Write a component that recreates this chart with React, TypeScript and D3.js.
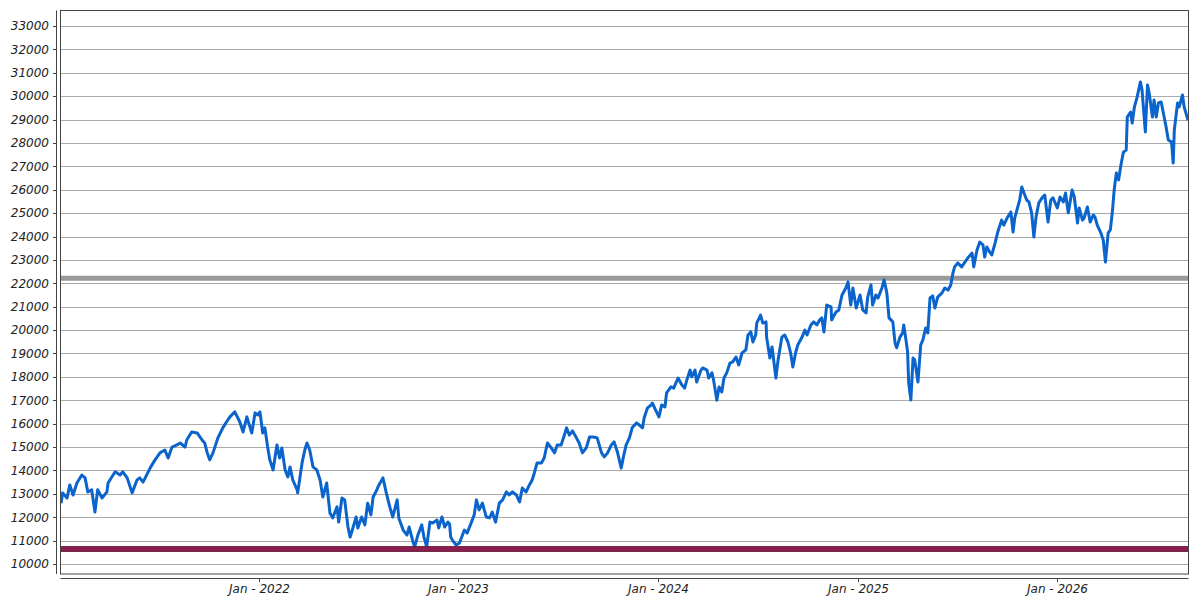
import React from "react";
import * as d3 from "d3";

const dates: string[] = [
  "2021-01-04","2021-01-07","2021-01-15","2021-01-20","2021-01-26","2021-02-02","2021-02-11","2021-02-17","2021-02-22","2021-03-01",
  "2021-03-07","2021-03-12","2021-03-20","2021-03-29","2021-03-31","2021-04-13","2021-04-22","2021-04-27","2021-05-05","2021-05-14",
  "2021-05-23","2021-05-28","2021-06-03","2021-06-16","2021-06-25","2021-07-04","2021-07-13","2021-07-19","2021-07-26","2021-08-04",
  "2021-08-10","2021-08-19","2021-08-22","2021-08-31","2021-09-10","2021-09-19","2021-09-24","2021-09-28","2021-10-03","2021-10-09",
  "2021-10-18","2021-10-27","2021-11-03","2021-11-09","2021-11-18","2021-11-27","2021-12-03","2021-12-10","2021-12-19","2021-12-25",
  "2021-12-30","2022-01-03","2022-01-08","2022-01-12","2022-01-17","2022-01-21","2022-01-27","2022-02-03","2022-02-08","2022-02-12",
  "2022-02-18","2022-02-23","2022-02-27","2022-03-04","2022-03-12","2022-03-13","2022-03-21","2022-03-26","2022-03-30","2022-04-04",
  "2022-04-10","2022-04-17","2022-04-23","2022-04-28","2022-05-05","2022-05-11","2022-05-16","2022-05-24","2022-05-27","2022-06-02",
  "2022-06-07","2022-06-13","2022-06-17","2022-06-22","2022-06-28","2022-07-01","2022-07-08","2022-07-14","2022-07-19","2022-07-25",
  "2022-07-29","2022-08-05","2022-08-07","2022-08-16","2022-08-23","2022-08-29","2022-09-03","2022-09-11","2022-09-14","2022-09-22",
  "2022-09-29","2022-10-03","2022-10-10","2022-10-13","2022-10-19","2022-10-26","2022-10-30","2022-11-04","2022-11-10","2022-11-15",
  "2022-11-23","2022-11-26","2022-12-02","2022-12-07","2022-12-13","2022-12-16","2022-12-18","2022-12-21","2022-12-28","2023-01-03",
  "2023-01-12","2023-01-17","2023-01-25","2023-01-30","2023-02-03","2023-02-08","2023-02-14","2023-02-21","2023-02-27","2023-03-04",
  "2023-03-10","2023-03-17","2023-03-23","2023-03-30","2023-04-04","2023-04-10","2023-04-17","2023-04-23","2023-04-28","2023-05-05",
  "2023-05-11","2023-05-16","2023-05-20","2023-05-25","2023-06-02","2023-06-07","2023-06-13","2023-06-20","2023-06-26","2023-07-01",
  "2023-07-08","2023-07-14","2023-07-18","2023-07-23","2023-07-29","2023-08-05","2023-08-10","2023-08-16","2023-08-23","2023-08-29",
  "2023-09-05","2023-09-12","2023-09-20","2023-09-25","2023-10-01","2023-10-08","2023-10-13","2023-10-19","2023-10-26","2023-10-30",
  "2023-11-04","2023-11-10","2023-11-15","2023-11-23","2023-11-28","2023-12-04","2023-12-07","2023-12-13","2023-12-20","2023-12-22",
  "2023-12-28","2024-01-03","2024-01-08","2024-01-14","2024-01-17","2024-01-25","2024-01-30","2024-02-07","2024-02-14","2024-02-19",
  "2024-02-23","2024-02-29","2024-03-03","2024-03-09","2024-03-12","2024-03-20","2024-03-23","2024-03-31","2024-04-03","2024-04-09",
  "2024-04-12","2024-04-18","2024-04-22","2024-04-27","2024-05-01","2024-05-06","2024-05-12","2024-05-17","2024-05-23","2024-05-28",
  "2024-06-03","2024-06-10","2024-06-14","2024-06-19","2024-06-23","2024-06-28","2024-06-30","2024-07-07","2024-07-11","2024-07-17",
  "2024-07-18","2024-07-24","2024-07-28","2024-08-04","2024-08-08","2024-08-15","2024-08-20","2024-08-26","2024-08-31","2024-09-04",
  "2024-09-09","2024-09-13","2024-09-21","2024-09-26","2024-09-30","2024-10-07","2024-10-12","2024-10-18","2024-10-23","2024-10-27",
  "2024-10-31","2024-11-05","2024-11-13","2024-11-14","2024-11-22","2024-11-27","2024-12-03","2024-12-10","2024-12-14","2024-12-19",
  "2024-12-23","2024-12-29","2025-01-05","2025-01-10","2025-01-16","2025-01-19","2025-01-25","2025-01-28","2025-02-03","2025-02-07",
  "2025-02-14","2025-02-18","2025-02-23","2025-02-27","2025-03-06","2025-03-10","2025-03-13","2025-03-19","2025-03-24","2025-03-26",
  "2025-03-30","2025-04-02","2025-04-04","2025-04-08","2025-04-12","2025-04-15","2025-04-21","2025-04-26","2025-04-30","2025-05-05",
  "2025-05-09","2025-05-13","2025-05-18","2025-05-22","2025-05-27","2025-06-04","2025-06-09","2025-06-15","2025-06-20","2025-06-24",
  "2025-06-27","2025-07-03","2025-07-10","2025-07-16","2025-07-21","2025-07-29","2025-08-01","2025-08-07","2025-08-12","2025-08-18",
  "2025-08-21","2025-08-25","2025-08-30","2025-09-03","2025-09-09","2025-09-14","2025-09-21","2025-09-25","2025-10-01","2025-10-08",
  "2025-10-12","2025-10-15","2025-10-19","2025-10-24","2025-10-28","2025-11-01","2025-11-06","2025-11-10","2025-11-15","2025-11-19",
  "2025-11-23","2025-11-28","2025-12-04","2025-12-09","2025-12-15","2025-12-20","2025-12-24","2026-01-01","2026-01-06","2026-01-12",
  "2026-01-16","2026-01-21","2026-01-28","2026-02-01","2026-02-07","2026-02-10","2026-02-16","2026-02-19","2026-02-25","2026-03-02",
  "2026-03-08","2026-03-11","2026-03-15","2026-03-21","2026-03-26","2026-03-30","2026-04-04","2026-04-08","2026-04-12","2026-04-15",
  "2026-04-19","2026-04-23","2026-04-28","2026-05-02","2026-05-07","2026-05-09","2026-05-15","2026-05-18","2026-05-22","2026-05-27",
  "2026-06-02","2026-06-05","2026-06-11","2026-06-15","2026-06-18","2026-06-24","2026-06-27","2026-07-01","2026-07-05","2026-07-10",
  "2026-07-14","2026-07-19","2026-07-23","2026-07-29","2026-08-01","2026-08-03","2026-08-09","2026-08-12","2026-08-18","2026-08-21",
  "2026-08-28"
];

const values: number[] = [
  12600,13040,12820,13380,12950,13460,13800,13680,13080,13170,
  12220,13170,12820,13080,13460,13940,13800,13940,13680,13040,
  13590,13680,13500,14100,14450,14750,14870,14530,15000,15090,
  15170,15000,15300,15640,15600,15300,15170,14790,14450,14750,
  15390,15820,16080,16290,16500,16080,15640,16290,15600,16460,
  16370,16500,15600,15820,15000,14450,14020,15090,14530,14960,
  14020,13720,14150,13590,13170,13040,14320,14870,15170,14870,
  14150,14020,13590,12860,13460,12180,11970,12440,11790,12820,
  12740,11580,11150,11540,12010,11540,12010,11670,12600,12100,
  12860,13170,13300,13680,12950,12400,12010,12740,11970,11450,
  11240,11580,10940,10730,11240,11670,11150,10730,11790,11750,
  11880,11540,12010,11580,11790,11700,11150,11020,10810,10900,
  11450,11320,11790,12100,12740,12310,12600,12010,11970,12220,
  11790,12600,12740,13080,12950,13080,12950,12650,13250,13080,
  13380,13590,13890,14320,14320,14530,15170,14960,14750,15090,
  15090,15510,15820,15510,15690,15390,15170,14750,14960,15430,
  15430,15390,14750,14580,14750,15090,15220,14790,14100,14580,
  15090,15390,15820,16030,15940,15820,16250,16670,16800,16880,
  16580,16290,16800,16710,17310,17570,17520,17950,17650,17520,
  17860,18290,18000,18290,17780,18290,18380,18290,17950,18170,
  17860,17000,17570,17350,17950,18170,18590,18640,18850,18510,
  19020,19150,19790,19920,19490,19790,20300,20640,20300,20350,
  19700,18810,19280,17950,18720,19700,19790,19490,19020,18420,
  19020,19360,19700,20000,19790,20220,20350,20220,20430,20520,
  19920,21070,20990,20430,20770,20850,21500,21800,22060,21070,
  21800,20940,21500,20860,20730,21410,21930,21070,21500,21370,
  21800,22140,21590,20520,20350,19450,19240,19700,19880,20220,
  19580,19060,17740,17010,18810,18720,17780,19360,19580,20090,
  19880,21370,21460,20940,21410,21590,21800,21710,21930,22440,
  22700,22870,22700,22910,23080,23290,22700,23420,23760,23640,
  23120,23550,23340,23210,23720,24190,24700,24490,24790,25050,
  24190,24790,25130,25560,26120,25860,25560,25480,25010,23980,
  24830,25430,25650,25770,24620,25560,25650,25220,25690,25480,
  25860,25010,25990,25690,24580,25220,24700,24790,25260,24620,
  24920,24830,24490,24190,23850,22910,24150,24280,25130,25990,
  26720,26420,27140,27610,27700,29110,29320,28850,29540,29960,
  30610,30260,28470,30480,30140,29110,29840,29110,29710,29750,
  29280,28680,28130,28040,27140,28550,29710,29540,30050,29540,
  28980
];

const yTicks: number[] = [10000,11000,12000,13000,14000,15000,16000,17000,18000,19000,20000,21000,22000,23000,24000,25000,26000,27000,28000,29000,30000,31000,32000,33000];
const xTickDates: string[] = ["2022-01-01","2023-01-01","2024-01-01","2025-01-01","2026-01-01"];
const xDomain: string[] = ["2021-01-03","2026-08-29"];
const yDomain: number[] = [9571, 33684];
const levelGray = 22213;
const levelMaroon = 10640;

const W = 1200, H = 600;
const L = 60.5, R = 1188.5, T = 10.5, B = 574;
const FONT = "'DejaVu Sans', sans-serif";

export default function App() {
  const parse = d3.timeParse("%Y-%m-%d");
  const x = d3.scaleTime().domain(xDomain.map((d) => parse(d) as Date)).range([L, R]);
  const y = d3.scaleLinear().domain(yDomain).range([B, T - 0.5]);
  const data = dates.map((d, i) => ({ date: parse(d) as Date, v: values[i] }));
  const line = d3.line<{ date: Date; v: number }>().x((d) => x(d.date)).y((d) => y(d.v));
  const fmt = d3.timeFormat("%b - %Y");

  return (
    <svg width={W} height={H} style={{ position: "absolute", left: 0, top: 0, background: "#fff" }}>
      <defs>
        <clipPath id="plot">
          <rect x={L} y={T} width={R - L} height={B - T} />
        </clipPath>
      </defs>
      <rect x={0} y={0} width={W} height={H} fill="#fff" />
      {yTicks.map((t) => (
        <line key={"g" + t} x1={L} x2={R} y1={Math.round(y(t)) + 0.5} y2={Math.round(y(t)) + 0.5} stroke="#aaaaaa" strokeWidth={1} />
      ))}
      <g clipPath="url(#plot)">
        <line x1={L} x2={R} y1={y(levelGray)} y2={y(levelGray)} stroke="#999999" strokeWidth={5} />
        <path d={line(data) || ""} fill="none" stroke="#0a64cc" strokeWidth={3} strokeLinejoin="round" />
        <rect x={L} y={y(levelMaroon) - 2.5} width={R - L} height={5} fill="#8a1f4f" stroke="#5e1234" strokeWidth={0.8} />
      </g>
      <rect x={L} y={T} width={R - L} height={B - T} fill="none" stroke="#444" strokeWidth={1} />
      {/* y axis */}
      <line x1={56.5} x2={56.5} y1={T} y2={B} stroke="#444" strokeWidth={1} />
      {yTicks.map((t) => (
        <g key={"y" + t}>
          <line x1={53} x2={56.5} y1={Math.round(y(t)) + 0.5} y2={Math.round(y(t)) + 0.5} stroke="#444" />
          <text x={49} y={y(t)} dy="0.36em" textAnchor="end" fontFamily={FONT} fontStyle="italic" fontSize={12} fill="#222">
            {t}
          </text>
        </g>
      ))}
      {/* x axis */}
      <line x1={L} x2={R} y1={578.5} y2={578.5} stroke="#444" strokeWidth={1} />
      {xTickDates.map((s) => {
        const d = parse(s) as Date;
        const px = Math.round(x(d)) + 0.5;
        return (
          <g key={s}>
            <line x1={px} x2={px} y1={578.5} y2={582} stroke="#444" />
            <text x={px} y={593} textAnchor="middle" fontFamily={FONT} fontStyle="italic" fontSize={12} fill="#222">
              {fmt(d)}
            </text>
          </g>
        );
      })}
    </svg>
  );
}
